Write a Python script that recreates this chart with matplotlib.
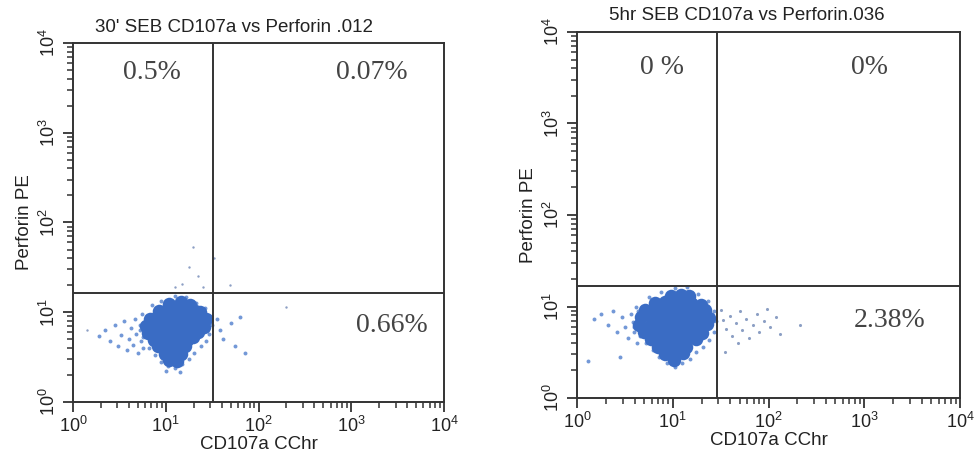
import numpy as np
import matplotlib
matplotlib.use("Agg")
import matplotlib.pyplot as plt
from matplotlib.ticker import LogLocator, NullFormatter, FixedLocator, FixedFormatter

plt.rcParams['font.family'] = ['Liberation Sans', 'DejaVu Sans']
plt.rcParams['mathtext.fontset'] = 'custom'
plt.rcParams['mathtext.rm'] = 'Liberation Sans'
plt.rcParams['mathtext.it'] = 'Liberation Sans:italic'
plt.rcParams['mathtext.bf'] = 'Liberation Sans:bold'

# ---------------- data ----------------
titles = ["30' SEB CD107a vs Perforin .012", "5hr SEB CD107a vs Perforin.036"]
xlabel = "CD107a CChr"
ylabel = "Perforin PE"
decade_ticks = [1, 10, 100, 1000, 10000]
decade_labels = ["$10^{0}$", "$10^{1}$", "$10^{2}$", "$10^{3}$", "$10^{4}$"]

gate_x = [32, 29]
gate_y = [16.4, 16.7]

quad_labels_left = ["0.5%", "0.07%", "0.66%"]
quad_labels_right = ["0 %", "0%", "2.38%"]

# Left panel events (log10 units)
left_core_lx = [1.04, 1.16, 1.26,
                0.93, 1.01, 1.11, 1.19, 1.31, 1.37,
                0.83, 0.91, 0.98, 1.09, 1.18, 1.27, 1.34, 1.43,
                0.79, 0.88, 0.97, 1.06, 1.13, 1.24, 1.31, 1.41,
                0.81, 0.90, 0.99, 1.06, 1.17, 1.26, 1.35,
                0.87, 0.94, 1.05, 1.12, 1.23, 1.29,
                0.92, 1.03, 1.10, 1.21,
                0.99, 1.06, 1.16,
                1.04, 1.12]
left_core_ly = [1.09, 1.11, 1.08,
                1.01, 1.03, 1.02, 1.04, 1.01, 1.00,
                0.93, 0.95, 0.94, 0.96, 0.93, 0.95, 0.94, 0.92,
                0.85, 0.87, 0.86, 0.87, 0.85, 0.87, 0.86, 0.84,
                0.77, 0.79, 0.78, 0.77, 0.79, 0.77, 0.78,
                0.69, 0.71, 0.70, 0.71, 0.69, 0.72,
                0.62, 0.61, 0.63, 0.62,
                0.54, 0.55, 0.53,
                0.47, 0.46]
left_halo = [(0.28, 0.74), (0.35, 0.80), (0.40, 0.68), (0.45, 0.86), (0.48, 0.62), (0.52, 0.75),
             (0.55, 0.90), (0.58, 0.58), (0.60, 0.70), (0.62, 0.82), (0.65, 0.64), (0.67, 0.93),
             (0.68, 0.76), (0.70, 0.55), (0.72, 0.86), (0.73, 0.68), (0.75, 0.60), (0.74, 0.98),
             (0.85, 1.08), (0.95, 1.12), (1.10, 1.18), (1.22, 1.17), (1.33, 1.10), (1.42, 1.05),
             (1.48, 0.96), (1.50, 0.86), (1.47, 0.76), (1.43, 0.68), (1.38, 0.62), (1.30, 0.55),
             (1.25, 0.48), (1.18, 0.42), (1.10, 0.38), (1.02, 0.40), (0.95, 0.45), (0.88, 0.52),
             (0.82, 0.60), (0.76, 0.72), (0.72, 0.80), (1.00, 0.35), (1.15, 0.33),
             (1.55, 0.92), (1.58, 0.80), (1.62, 0.70), (1.70, 0.88), (1.80, 0.95), (1.75, 0.62),
             (1.85, 0.55)]
left_outliers = [(1.29, 1.73), (1.25, 1.50), (1.35, 1.40), (1.18, 1.32), (1.10, 1.28), (1.40, 1.28),
                 (1.52, 1.60), (1.69, 1.30), (2.30, 1.06), (0.15, 0.80)]

# Right panel events (log10 units)
right_core_lx = [0.98, 1.09, 1.17,
                 0.81, 0.92, 1.00, 1.11, 1.19, 1.29,
                 0.71, 0.82, 0.90, 0.98, 1.09, 1.16, 1.27, 1.34,
                 0.67, 0.78, 0.85, 0.96, 1.03, 1.14, 1.21, 1.31, 1.38,
                 0.65, 0.76, 0.83, 0.94, 1.01, 1.12, 1.19, 1.30, 1.36,
                 0.70, 0.80, 0.87, 0.98, 1.05, 1.16, 1.23, 1.31,
                 0.77, 0.88, 0.95, 1.06, 1.13, 1.24,
                 0.85, 0.96, 1.03, 1.14,
                 0.92, 1.02, 1.11,
                 1.01]
right_core_ly = [1.11, 1.13, 1.12,
                 1.04, 1.05, 1.03, 1.05, 1.04, 1.02,
                 0.96, 0.97, 0.95, 0.97, 0.96, 0.98, 0.95, 0.96,
                 0.88, 0.89, 0.87, 0.89, 0.88, 0.87, 0.89, 0.88, 0.87,
                 0.80, 0.79, 0.81, 0.80, 0.79, 0.81, 0.80, 0.79, 0.81,
                 0.72, 0.71, 0.73, 0.72, 0.71, 0.73, 0.72, 0.71,
                 0.64, 0.63, 0.65, 0.64, 0.63, 0.65,
                 0.56, 0.57, 0.55, 0.56,
                 0.48, 0.47, 0.49,
                 0.41]
right_halo = [(0.18, 0.86), (0.25, 0.92), (0.32, 0.80), (0.38, 0.95), (0.42, 0.72), (0.47, 0.88),
              (0.50, 0.78), (0.53, 0.66), (0.56, 0.92), (0.58, 0.83), (0.60, 0.72), (0.62, 1.00),
              (0.63, 0.60), (0.12, 0.40), (0.45, 0.45),
              (0.75, 1.10), (0.88, 1.16), (1.02, 1.20), (1.15, 1.21), (1.26, 1.14), (1.37, 1.06),
              (1.43, 0.95), (1.45, 0.84), (1.43, 0.72), (1.38, 0.63), (1.32, 0.56), (1.24, 0.50),
              (1.18, 0.43), (1.10, 0.38), (1.02, 0.34), (0.94, 0.38), (0.86, 0.45), (0.79, 0.53),
              (0.72, 0.60), (0.66, 0.68), (0.60, 0.78), (0.64, 0.95)]
right_tail = [(1.50, 0.96), (1.53, 0.85), (1.56, 0.75), (1.60, 0.90), (1.62, 0.68), (1.66, 0.82),
              (1.70, 0.95), (1.72, 0.74), (1.76, 0.86), (1.80, 0.66), (1.84, 0.80), (1.88, 0.92),
              (1.90, 0.72), (1.95, 0.84), (1.98, 0.97), (2.02, 0.78), (2.08, 0.88), (2.12, 0.70),
              (2.33, 0.80), (1.55, 0.50), (1.68, 0.60)]

# ---------------- drawing ----------------
fig = plt.figure(figsize=(9.75, 4.65), dpi=100)
axL = fig.add_axes([73 / 975, 1 - 402 / 465, 371 / 975, 359 / 465])
axR = fig.add_axes([577 / 975, 1 - 398 / 465, 383 / 975, 366 / 465])

core_c = '#3a6cc4'
halo_c = '#5b86d0'
out_c = '#8c9fc4'
frame_c = '#333333'


def style_axis(ax, gx, gy):
    ax.set_xscale('log')
    ax.set_yscale('log')
    ax.set_xlim(1, 10000)
    ax.set_ylim(1, 10000)
    for s in ax.spines.values():
        s.set_color(frame_c)
        s.set_linewidth(1.4)
    ax.xaxis.set_major_locator(FixedLocator(decade_ticks))
    ax.yaxis.set_major_locator(FixedLocator(decade_ticks))
    ax.xaxis.set_major_formatter(FixedFormatter(decade_labels))
    ax.yaxis.set_major_formatter(FixedFormatter(decade_labels))
    ax.xaxis.set_minor_locator(LogLocator(base=10, subs=np.arange(2, 10)))
    ax.yaxis.set_minor_locator(LogLocator(base=10, subs=np.arange(2, 10)))
    ax.xaxis.set_minor_formatter(NullFormatter())
    ax.yaxis.set_minor_formatter(NullFormatter())
    ax.tick_params(which='major', direction='out', length=7, width=1.3, color=frame_c,
                   labelsize=13, labelcolor='#222222', pad=3)
    ax.tick_params(which='minor', direction='out', length=4, width=1.1, color=frame_c)
    for lab in ax.get_yticklabels():
        lab.set_rotation(90)
        lab.set_va('center')
    ax.axvline(gx, color=frame_c, lw=1.4, zorder=3)
    ax.axhline(gy, color=frame_c, lw=1.4, zorder=3)
    ax.set_xlabel(xlabel, fontsize=13.5, color='#222222', labelpad=0)
    ax.set_ylabel(ylabel, fontsize=13.5, color='#222222', labelpad=4)


def pts(lst):
    a = np.array(lst)
    return 10 ** a[:, 0], 10 ** a[:, 1]


style_axis(axL, gate_x[0], gate_y[0])
style_axis(axR, gate_x[1], gate_y[1])

# left events
x, y = pts(left_outliers)
axL.scatter(x, y, s=3, c=out_c, lw=0, zorder=2)
x, y = pts(left_halo)
axL.scatter(x, y, s=8, c=halo_c, lw=0, alpha=0.85, zorder=2)
axL.scatter(10 ** np.array(left_core_lx), 10 ** np.array(left_core_ly), s=95, c=core_c, lw=0, zorder=2)

# right events
x, y = pts(right_tail)
axR.scatter(x, y, s=5, c=out_c, lw=0, zorder=2)
x, y = pts(right_halo)
axR.scatter(x, y, s=8, c=halo_c, lw=0, alpha=0.85, zorder=2)
axR.scatter(10 ** np.array(right_core_lx), 10 ** np.array(right_core_ly), s=95, c=core_c, lw=0, zorder=2)

# quadrant percentages
serif = ['Liberation Serif', 'DejaVu Serif']
pc = '#444444'
for ax, labs, pos in [
    (axL, quad_labels_left, [(0.213, 0.919), (0.806, 0.919), (0.86, 0.214)]),
    (axR, quad_labels_right, [(0.222, 0.902), (0.765, 0.902), (0.817, 0.213)]),
]:
    for t, (px, py) in zip(labs, pos):
        ax.text(px, py, t, transform=ax.transAxes, ha='center', va='center',
                fontsize=20, color=pc, family=serif)

fig.text(234 / 975, 1 - 28 / 465, titles[0], ha='center', va='center', fontsize=13.5, color='#222222')
fig.text(747 / 975, 1 - 15 / 465, titles[1], ha='center', va='center', fontsize=13.5, color='#222222')

fig.savefig('out.png', dpi=100, facecolor='white')
